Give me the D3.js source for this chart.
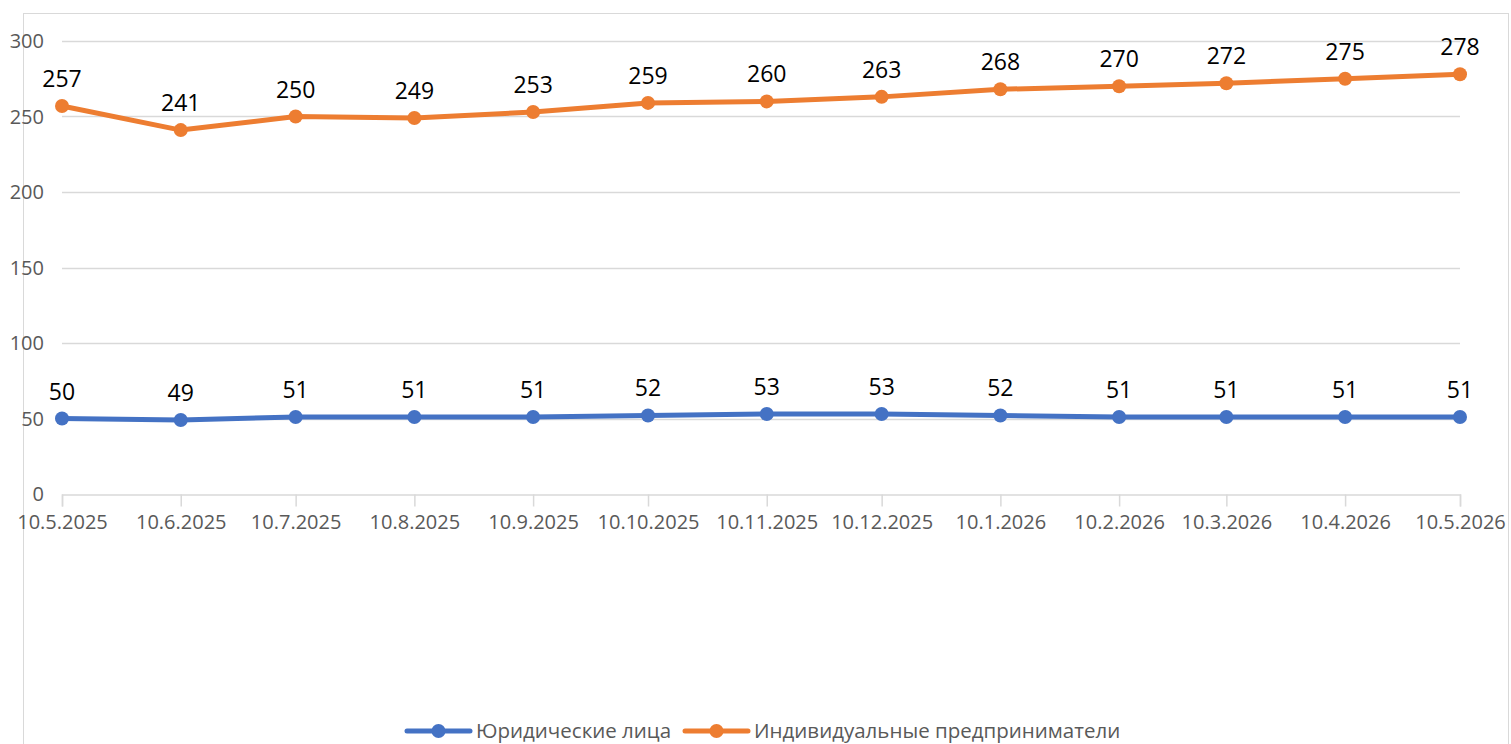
<!DOCTYPE html>
<html>
<head>
<meta charset="utf-8">
<script src="https://cdn.jsdelivr.net/npm/d3@7"></script>
<style>
  body { margin: 0; background: #fff; }
  svg text { font-family: "Open Sans", "Noto Sans", sans-serif; }
</style>
</head>
<body>
<svg></svg>
<script>
///////////////////////////////////////////
// Data
var dates = ["2025-05-10", "2025-06-10", "2025-07-10", "2025-08-10", "2025-09-10", "2025-10-10",
             "2025-11-10", "2025-12-10", "2026-01-10", "2026-02-10", "2026-03-10", "2026-04-10", "2026-05-10"];
var legalEntities = [50, 49, 51, 51, 51, 52, 53, 53, 52, 51, 51, 51, 51];
var entrepreneurs = [257, 241, 250, 249, 253, 259, 260, 263, 268, 270, 272, 275, 278];
var seriesNames = ["Юридические лица", "Индивидуальные предприниматели"];
var seriesColors = ["#4472c4", "#ed7d31"];
var yTicks = [0, 50, 100, 150, 200, 250, 300];

///////////////////////////////////////////
// Layout
var svgWidth = 1511, svgHeight = 744;
var margin = {top: 41, right: 51, bottom: 250, left: 62},
    width = svgWidth - margin.left - margin.right,
    height = svgHeight - margin.top - margin.bottom;

var parse = d3.timeParse("%Y-%m-%d");
var fmt = function(d) { return d.getDate() + "." + (d.getMonth() + 1) + "." + d.getFullYear(); };
var dateVals = dates.map(parse);

var svg = d3.select("svg").attr("width", svgWidth).attr("height", svgHeight);

// chart frame
svg.append("rect").attr("x", 23.5).attr("y", 13.5).attr("width", 1485).attr("height", 760)
   .attr("fill", "none").attr("stroke", "#d9d9d9");

var g = svg.append("g").attr("transform", "translate(" + [margin.left, margin.top] + ")");

var x = d3.scaleTime().domain(d3.extent(dateVals)).range([0, width]);
var y = d3.scaleLinear().domain([0, 300]).range([height, 0]);

// gridlines
g.append("g").selectAll("line").data(yTicks.slice(1)).join("line")
  .attr("x1", 0).attr("x2", width)
  .attr("y1", function(d) { return Math.round(y(d)) + 0.5; })
  .attr("y2", function(d) { return Math.round(y(d)) + 0.5; })
  .attr("stroke", "#d9d9d9").attr("stroke-width", 1.5);

// y axis labels
g.append("g").selectAll("text").data(yTicks).join("text")
  .attr("x", -18).attr("y", function(d) { return y(d); })
  .attr("dy", "0.35em").attr("text-anchor", "end")
  .attr("font-size", 20).attr("fill", "#595959")
  .text(function(d) { return d; });

// x axis
var xAxis = d3.axisBottom(x).tickValues(dateVals).tickFormat(fmt).tickSize(12).tickPadding(8);
var gx = g.append("g").attr("transform", "translate(0," + (Math.round(height) + 0.5) + ")").call(xAxis);
gx.select(".domain").attr("stroke", "#d9d9d9").attr("stroke-width", 1.5);
gx.selectAll(".tick line").attr("stroke", "#d9d9d9").attr("stroke-width", 1.5);
gx.selectAll(".tick text").attr("font-size", 20).attr("fill", "#595959")
  .attr("font-family", "'Open Sans', sans-serif");

// series
var series = [legalEntities, entrepreneurs];
var line = d3.line().x(function(d, i) { return x(dateVals[i]); }).y(function(d) { return y(d); });

series.forEach(function(vals, s) {
  var sg = g.append("g");
  sg.append("path").datum(vals).attr("d", line)
    .attr("fill", "none").attr("stroke", seriesColors[s]).attr("stroke-width", 5)
    .attr("stroke-linejoin", "round");
  sg.selectAll("circle").data(vals).join("circle")
    .attr("cx", function(d, i) { return x(dateVals[i]); })
    .attr("cy", function(d) { return y(d); })
    .attr("r", 7).attr("fill", seriesColors[s]);
  sg.selectAll("text").data(vals).join("text")
    .attr("x", function(d, i) { return x(dateVals[i]); })
    .attr("y", function(d) { return y(d) - 19; })
    .attr("text-anchor", "middle").attr("font-size", 23).attr("fill", "#000")
    .text(function(d) { return d; });
});

///////////////////////////////////////////
// Legend
var legend = svg.append("g").attr("transform", "translate(0,731)");
var lx = [407, 685];
seriesNames.forEach(function(name, s) {
  var lg = legend.append("g").attr("transform", "translate(" + lx[s] + ",0)");
  lg.append("line").attr("x1", 0).attr("x2", 63).attr("y1", 0).attr("y2", 0)
    .attr("stroke", seriesColors[s]).attr("stroke-width", 5).attr("stroke-linecap", "round");
  lg.append("circle").attr("cx", 31.5).attr("cy", 0).attr("r", 7).attr("fill", seriesColors[s]);
  lg.append("text").attr("x", 69).attr("y", 0).attr("dy", "0.35em")
    .attr("font-size", 20.5).attr("fill", "#595959").text(name);
});
</script>
</body>
</html>
